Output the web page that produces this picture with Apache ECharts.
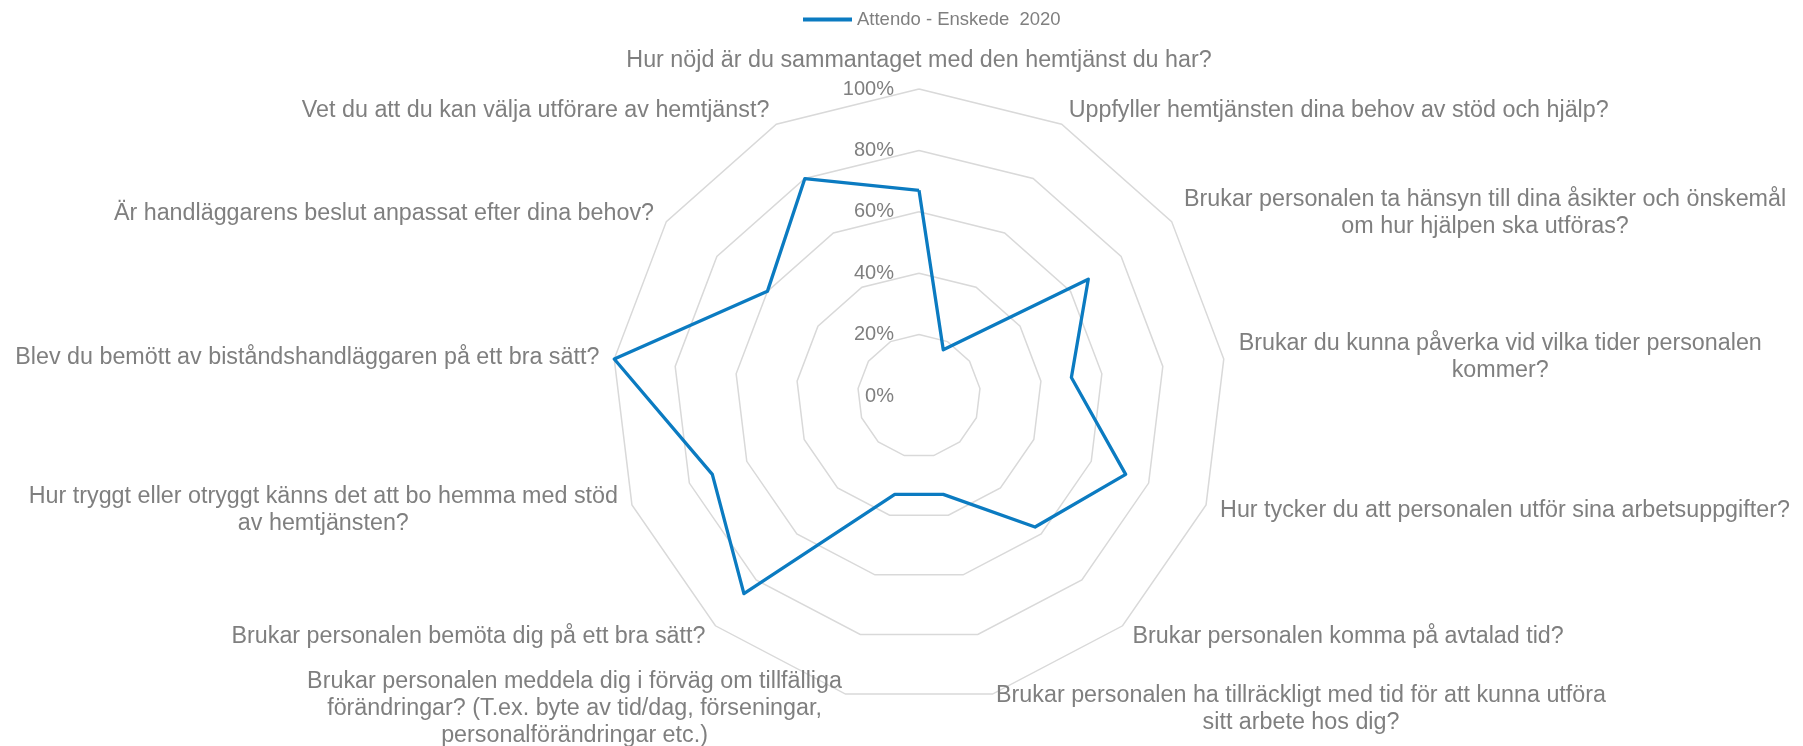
<!DOCTYPE html>
<html>
<head>
<meta charset="utf-8">
<script src="https://cdn.jsdelivr.net/npm/echarts@6/dist/echarts.min.js"></script>
<style>
  html, body { margin: 0; padding: 0; background: #fff; }
  #main { width: 1803px; height: 746px; }
</style>
</head>
<body>
<div id="main"></div>
<script>
// questions in clockwise order, starting at the top
const QUESTIONS = [
  'Hur nöjd är du sammantaget med den hemtjänst du har?',
  'Uppfyller hemtjänsten dina behov av stöd och hjälp?',
  'Brukar personalen ta hänsyn till dina åsikter och önskemål\nom hur hjälpen ska utföras?',
  'Brukar du kunna påverka vid vilka tider personalen\nkommer?',
  'Hur tycker du att personalen utför sina arbetsuppgifter?',
  'Brukar personalen komma på avtalad tid?',
  'Brukar personalen ha tillräckligt med tid för att kunna utföra\nsitt arbete hos dig?',
  'Brukar personalen meddela dig i förväg om tillfälliga\nförändringar? (T.ex. byte av tid/dag, förseningar,\npersonalförändringar etc.)',
  'Brukar personalen bemöta dig på ett bra sätt?',
  'Hur tryggt eller otryggt känns det att bo hemma med stöd\nav hemtjänsten?',
  'Blev du bemött av biståndshandläggaren på ett bra sätt?',
  'Är handläggarens beslut anpassat efter dina behov?',
  'Vet du att du kan välja utförare av hemtjänst?'
]

const VALUES = [67, 17, 67, 50, 72, 57, 33, 33, 86, 72, 100, 60, 80]
const SERIES_NAME = 'Attendo - Enskede  2020'

const GREY = '#7f7f7f'
const BLUE = '#0b7bc1'
const FONT = '"Liberation Sans", Arial, sans-serif'

const myChart = echarts.init(document.getElementById('main'))

// echarts radar runs counter-clockwise, so keep the first axis and flip the rest
const order = [0]
for (let i = QUESTIONS.length - 1; i > 0; i--) order.push(i)

const indicators = order.map(function (i) {
  const ind = { name: QUESTIONS[i], min: 0, max: 100 }
  // only the top axis carries the percent labels
  if (i === 0) {
    ind.axisLabel = {
      show: true,
      margin: 25,
      color: GREY,
      fontSize: 20,
      fontFamily: FONT,
      formatter: '{value}%'
    }
  }
  return ind
})
const values = order.map(function (i) { return VALUES[i] })

const option = {
  animation: false,
  legend: {
    data: [SERIES_NAME],
    left: 798,
    top: 5,
    icon: 'rect',
    itemWidth: 49,
    itemHeight: 4,
    itemGap: 4,
    textStyle: { color: GREY, fontSize: 18.5, fontFamily: FONT }
  },
  radar: {
    center: [919, 396],
    radius: 307,
    startAngle: 90,
    splitNumber: 5,
    shape: 'polygon',
    indicator: indicators,
    axisNameGap: 15,
    axisName: {
      color: GREY,
      fontSize: 23.3,
      fontFamily: FONT,
      lineHeight: 27,
      formatter: function (name) {
        return name.split('\n').map(function (s) { return '{c|' + s + '}' }).join('\n')
      },
      rich: {
        c: { align: 'center', color: GREY, fontSize: 23.3, fontFamily: FONT, lineHeight: 27 }
      }
    },
    axisLine: { show: false },
    axisTick: { show: false },
    axisLabel: { show: false },
    splitArea: { show: false },
    splitLine: { lineStyle: { color: '#d9d9d9', width: 1.5 } }
  },
  series: [
    {
      type: 'radar',
      name: SERIES_NAME,
      symbol: 'none',
      lineStyle: { color: BLUE, width: 3.3 },
      itemStyle: { color: BLUE },
      data: [{ value: values, name: SERIES_NAME }]
    }
  ]
}

myChart.setOption(option)
</script>
</body>
</html>
